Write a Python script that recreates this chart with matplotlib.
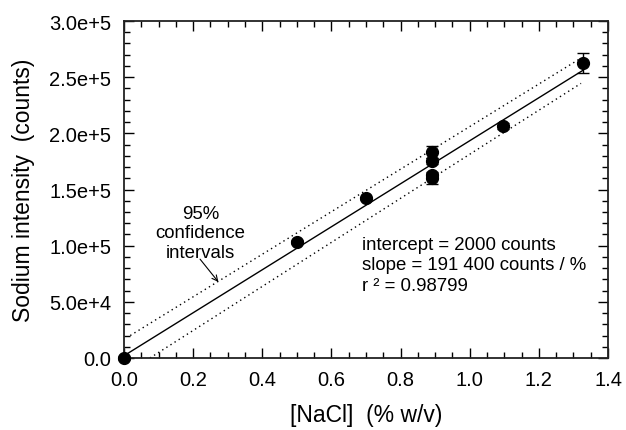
import matplotlib
matplotlib.use("Agg")
import matplotlib.pyplot as plt
from matplotlib.ticker import MultipleLocator

plt.rcParams['font.family'] = ['Liberation Sans', 'DejaVu Sans']

# data
nacl = [0.0, 0.5, 0.7, 0.892, 0.892, 0.892, 0.892, 1.0975, 1.327]
intensity = [0, 103300, 142000, 183400, 175400, 162700, 160000, 206700, 262800]
err = [1500, 1500, 1500, 5500, 3000, 3000, 4700, 2500, 8700]

fit_x = [0.0, 1.328]
intercept = 2000
slope = 191400
fit_y = [intercept + slope * v for v in fit_x]

ci_upper_x = [0.018, 1.322]
ci_upper_y = [20000, 267000]
ci_lower_x = [0.075, 1.322]
ci_lower_y = [0, 244500]

xticks = [0.0, 0.2, 0.4, 0.6, 0.8, 1.0, 1.2, 1.4]
xticklabels = ["0.0", "0.2", "0.4", "0.6", "0.8", "1.0", "1.2", "1.4"]
yticks = [0, 50000, 100000, 150000, 200000, 250000, 300000]
yticklabels = ["0.0", "5.0e+4", "1.0e+5", "1.5e+5", "2.0e+5", "2.5e+5", "3.0e+5"]

fig = plt.figure(figsize=(6.26, 4.31), dpi=100)
ax = fig.add_axes([124/626, 1-359/431, (608-124)/626, (359-22)/431])

ax.plot(fit_x, fit_y, color='black', lw=1.0, zorder=2)
ax.plot(ci_upper_x, ci_upper_y, color='black', lw=1.0, ls=(0, (1, 2.5)), zorder=2)
ax.plot(ci_lower_x, ci_lower_y, color='black', lw=1.0, ls=(0, (1, 2.5)), zorder=2)
ax.errorbar(nacl, intensity, yerr=err, fmt='o', color='black', ms=8.5,
            ecolor='black', elinewidth=1.0, capsize=4, capthick=1.0, zorder=3,
            clip_on=False)

ax.set_xlim(0, 1.4)
ax.set_ylim(0, 300000)
ax.set_xticks(xticks)
ax.set_xticklabels(xticklabels)
ax.set_yticks(yticks)
ax.set_yticklabels(yticklabels)
ax.xaxis.set_minor_locator(MultipleLocator(0.05))
ax.yaxis.set_minor_locator(MultipleLocator(10000))
ax.tick_params(which='both', direction='in', top=True, right=True, labelsize=14.5)
ax.tick_params(which='major', length=7, width=1)
ax.tick_params(which='minor', length=4, width=1)
ax.tick_params(axis='x', pad=9)
ax.tick_params(axis='y', pad=9)
for s in ax.spines.values():
    s.set_linewidth(1.3)
    s.set_color('#222222')

ax.set_xlabel("[NaCl]  (% w/v)", fontsize=16.5, labelpad=10)
ax.set_ylabel("Sodium intensity  (counts)", fontsize=16.5, labelpad=10)

ax.text(0.222, 111300, "95%\nconfidence\nintervals", ha='center', va='center',
        fontsize=13.4, linespacing=1.17)
ax.annotate("", xy=(0.273, 67700), xytext=(0.22, 88000),
            arrowprops=dict(arrowstyle='->', color='black', lw=0.8,
                            shrinkA=0, shrinkB=0))

ax.text(0.688, 82800, "intercept = 2000 counts\nslope = 191 400 counts / %\nr \u00b2 = 0.98799",
        ha='left', va='center', fontsize=13.4, linespacing=1.26)

fig.savefig("out.png", dpi=100)
